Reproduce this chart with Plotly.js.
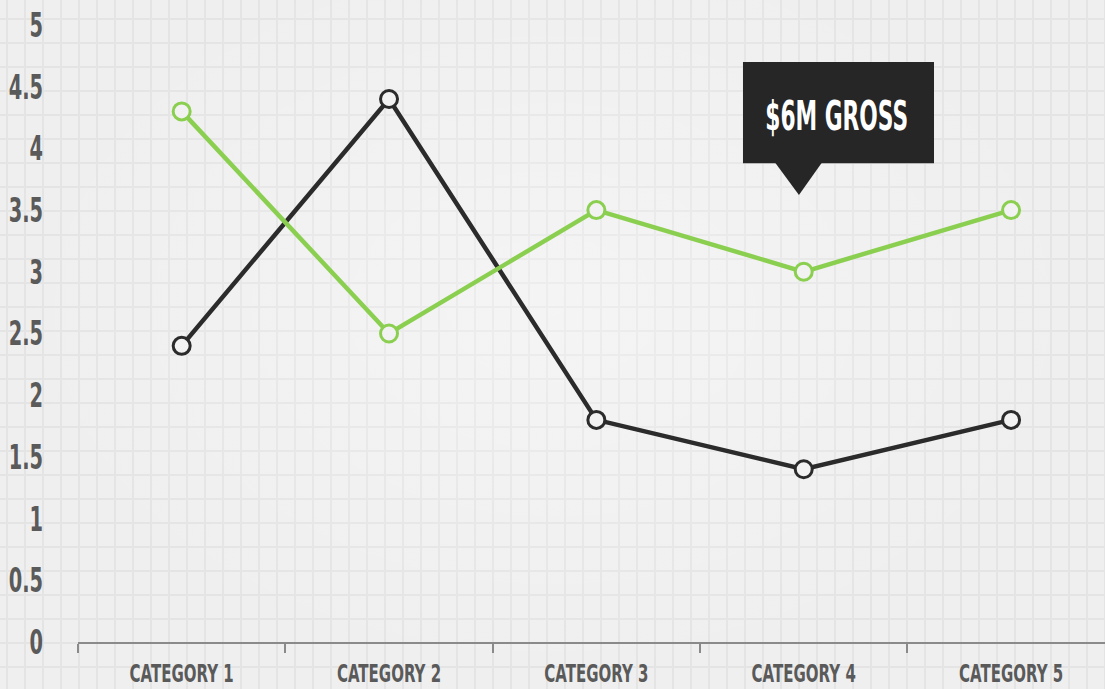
<!DOCTYPE html>
<html>
<head>
<meta charset="utf-8">
<script src="https://cdn.plot.ly/plotly-3.0.1.min.js"></script>
<style>
  html, body { margin: 0; padding: 0; }
  body {
    width: 1105px; height: 689px; overflow: hidden;
    background-color: #efefef;
    background-image:
      radial-gradient(ellipse at 50% 45%, rgba(255,255,255,0.35) 0%, rgba(255,255,255,0) 70%),
      linear-gradient(to right, #e4e4e4 2px, transparent 2px),
      linear-gradient(to bottom, #e4e4e4 2px, transparent 2px);
    background-size: 100% 100%, 18px 24px, 18px 24px;
    background-position: 0 0, 6px 0, 0 18px;
  }
  #chart { width: 1105px; height: 689px; }
</style>
</head>
<body>
<div id="chart"></div>
<script>
const categories = ["CATEGORY 1", "CATEGORY 2", "CATEGORY 3", "CATEGORY 4", "CATEGORY 5"];
const greenSeries = [4.3, 2.5, 3.5, 3.0, 3.5];
const blackSeries = [2.4, 4.4, 1.8, 1.4, 1.8];
const yTickValues = [0, 0.5, 1, 1.5, 2, 2.5, 3, 3.5, 4, 4.5, 5];
const yTickLabels = ["0", "0.5", "1", "1.5", "2", "2.5", "3", "3.5", "4", "4.5", "5"];
const calloutText = "$6M GROSS";

const FONT = '"DejaVu Sans", sans-serif';
const GREEN = '#8bcf50';
const BLACK = '#2b2b2b';

function series(y, color) {
  return {
    type: 'scatter', mode: 'lines+markers',
    x: categories, y: y,
    line: { color: color, width: 4.5 },
    marker: { symbol: 'circle', size: 17, color: '#f2f2f2', line: { color: color, width: 3 } },
    hoverinfo: 'skip', showlegend: false, cliponaxis: false
  };
}

const data = [series(blackSeries, BLACK), series(greenSeries, GREEN)];

const layout = {
  width: 1105, height: 689,
  margin: { l: 78, r: 0, t: 25, b: 47 },
  paper_bgcolor: 'rgba(0,0,0,0)',
  plot_bgcolor: 'rgba(0,0,0,0)',
  showlegend: false,
  xaxis: {
    type: 'category',
    range: [-0.5, 4.453],
    showgrid: false, zeroline: false,
    showline: true, linecolor: '#8a8a8a', linewidth: 2,
    ticks: 'outside', tickson: 'boundaries', ticklen: 9, tickcolor: '#8a8a8a', tickwidth: 2,
    ticklabelstandoff: 8,
    tickfont: { family: FONT, size: 25, color: '#5a5a5a', weight: 'bold' },
    fixedrange: true
  },
  yaxis: {
    range: [0, 5],
    tickvals: yTickValues, ticktext: yTickLabels,
    showgrid: false, zeroline: false, showline: false,
    ticks: '', ticklabelstandoff: 34,
    tickfont: { family: FONT, size: 34, color: '#5a5a5a', weight: 'bold' },
    fixedrange: true
  },
  shapes: [
    { type: 'rect', xref: 'paper', yref: 'paper', x0: 0.6475, x1: 0.8335, y0: 0.776, y1: 0.940,
      fillcolor: '#262626', line: { width: 0 }, layer: 'above' },
    { type: 'path', xref: 'paper', yref: 'paper',
      path: 'M 0.6787 0.777 L 0.7244 0.777 L 0.7020 0.7245 Z',
      fillcolor: '#262626', line: { width: 0 }, layer: 'above' }
  ],
  annotations: [
    { xref: 'paper', yref: 'paper', x: 0.7385, y: 0.853, xanchor: 'center', yanchor: 'middle',
      text: calloutText, showarrow: false,
      font: { family: FONT, size: 41, color: '#ffffff', weight: 'bold' } }
  ]
};

// Narrow the bold glyphs horizontally to mimic the condensed display face.
function condense(selector, factor) {
  document.querySelectorAll(selector).forEach(function (t) {
    const len = t.getComputedTextLength();
    if (len > 0) {
      t.setAttribute('textLength', (len * factor).toFixed(2));
      t.setAttribute('lengthAdjust', 'spacingAndGlyphs');
    }
  });
}

Plotly.newPlot('chart', data, layout, { staticPlot: true, displayModeBar: false }).then(function () {
  condense('.ytick text', 0.57);
  condense('.xtick text', 0.60);
  condense('.annotation-text', 0.53);
});
</script>
</body>
</html>
